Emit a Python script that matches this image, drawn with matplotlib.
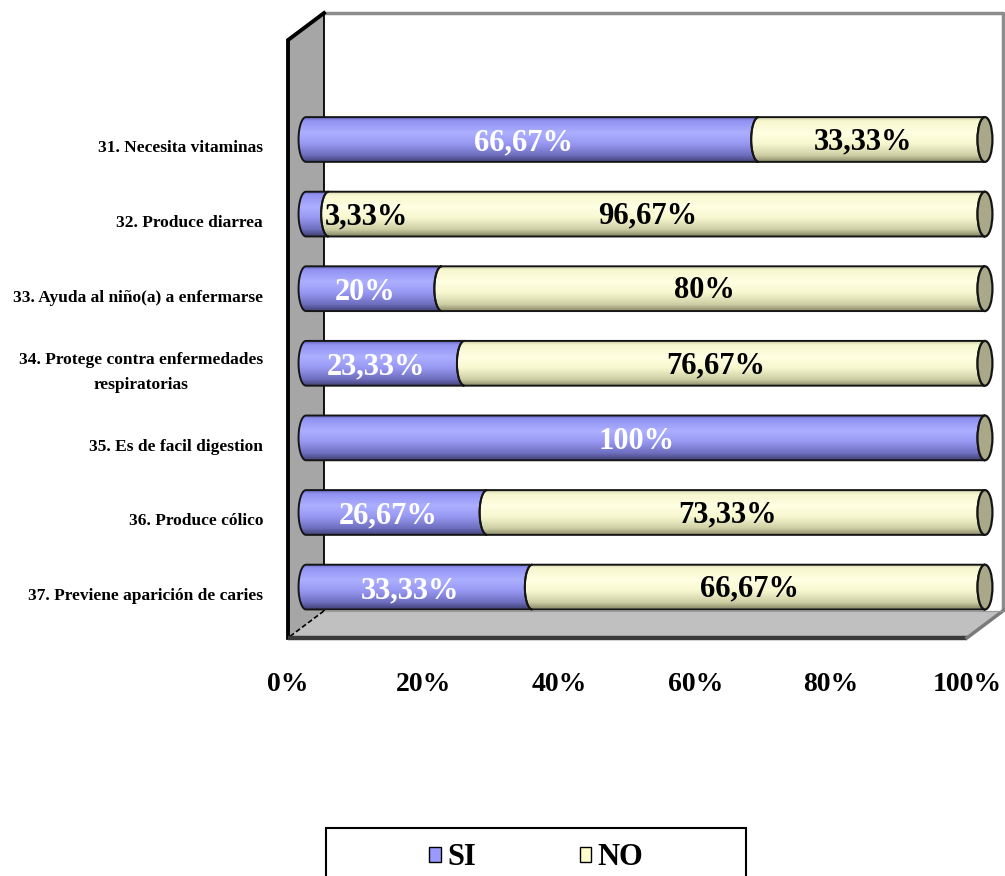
import numpy as np
import matplotlib
matplotlib.use("Agg")
import matplotlib.pyplot as plt
from matplotlib.path import Path
from matplotlib.patches import PathPatch, Polygon, Ellipse, Rectangle, Patch
from matplotlib.colors import LinearSegmentedColormap

# ---- data -------------------------------------------------------------
categories = [
    "31. Necesita vitaminas",
    "32. Produce diarrea",
    "33. Ayuda al niño(a) a enfermarse",
    "34. Protege contra enfermedades\nrespiratorias",
    "35. Es de facil digestion",
    "36. Produce cólico",
    "37. Previene aparición de caries",
]
si_values = [66.67, 3.33, 20, 23.33, 100, 26.67, 33.33]
no_values = [33.33, 96.67, 80, 76.67, 0, 73.33, 66.67]
series_names = ["SI", "NO"]
x_ticks = [0, 20, 40, 60, 80, 100]

# ---- style ------------------------------------------------------------
SERIF = "Liberation Serif"
SI_COLOR = "#9999FF"
NO_COLOR = "#FFFFCC"
CAP_COLOR = "#A9A98A"

si_cmap = LinearSegmentedColormap.from_list("si", [
    (0.00, "#6A6AC4"), (0.08, "#9292F2"), (0.35, "#ACAFFF"),
    (0.60, "#9797F2"), (0.85, "#6E6EBE"), (1.00, "#424278")])
no_cmap = LinearSegmentedColormap.from_list("no", [
    (0.00, "#CFCFA8"), (0.08, "#F6F6CE"), (0.35, "#FFFFE3"),
    (0.60, "#F7F7CF"), (0.85, "#CFCFA6"), (1.00, "#8A8A6A")])

# 3D box geometry (data units: x in percent, y in category rows)
DEPTH_DX = 5.3      # horizontal shift from front to back
DEPTH_DY = -0.362   # vertical shift from front to back
BAR_H = 0.60
CAP_A = 1.1         # half-width of the elliptical ends
TOP_Y = -1.514      # top of walls at mid depth
FLOOR_Y = 6.50      # floor at mid depth


def proj(x, y, z):
    """Oblique projection; z=0 front, z=1 back, bars at z=0.5."""
    return (x + (z - 0.5) * DEPTH_DX, y + (z - 0.5) * DEPTH_DY)


fig = plt.figure(figsize=(10.05, 8.76), dpi=100)
ax = fig.add_axes([0, 0, 1, 1])
ax.set_xlim(-45.07, 102.95)
ax.set_ylim(9.873, -1.870)
ax.axis("off")

# ---- walls and floor --------------------------------------------------
back_wall = Polygon([proj(0, TOP_Y, 1), proj(100, TOP_Y, 1),
                     proj(100, FLOOR_Y, 1), proj(0, FLOOR_Y, 1)],
                    closed=True, facecolor="white", edgecolor="none", zorder=1)
ax.add_patch(back_wall)
ax.plot(*zip(proj(0, TOP_Y, 1), proj(100, TOP_Y, 1), proj(100, FLOOR_Y, 1)),
        color="#8C8C8C", lw=2.5, zorder=2, solid_capstyle="butt")

left_wall = Polygon([proj(0, TOP_Y, 0), proj(0, TOP_Y, 1),
                     proj(0, FLOOR_Y, 1), proj(0, FLOOR_Y, 0)],
                    closed=True, facecolor="#A6A6A6", edgecolor="none", zorder=1)
ax.add_patch(left_wall)

floor = Polygon([proj(0, FLOOR_Y, 1), proj(100, FLOOR_Y, 1),
                 proj(100, FLOOR_Y, 0), proj(0, FLOOR_Y, 0)],
                closed=True, facecolor="#C0C0C0", edgecolor="none", zorder=1)
ax.add_patch(floor)

# wall edges
ax.plot(*zip(proj(0, FLOOR_Y, 0), proj(0, TOP_Y, 0), proj(0, TOP_Y, 1)),
        color="black", lw=2.8, zorder=2, solid_joinstyle="miter")
ax.plot(*zip(proj(0, TOP_Y, 1), proj(0, FLOOR_Y, 1)),
        color="black", lw=1.3, zorder=2)
ax.plot(*zip(proj(0, FLOOR_Y, 1), proj(0, FLOOR_Y, 0)),
        color="black", lw=1.2, ls=(0, (3, 1.5)), zorder=2)
ax.plot(*zip(proj(0, FLOOR_Y, 0), proj(100, FLOOR_Y, 0)),
        color="#3A3A3A", lw=3.2, zorder=2, solid_capstyle="butt")
ax.plot(*zip(proj(100, FLOOR_Y, 0), proj(100, FLOOR_Y, 1)),
        color="#7A7A7A", lw=2.5, zorder=2)
ax.plot(*zip(proj(0, FLOOR_Y, 1), proj(100, FLOOR_Y, 1)),
        color="#9A9A9A", lw=0.8, zorder=2)


# ---- cylinders --------------------------------------------------------
def segment_path(x0, x1, yc, h, a):
    t = np.linspace(-np.pi / 2, np.pi / 2, 40)
    top, bot = yc - h / 2, yc + h / 2
    verts = [(x0, top), (x1, top)]
    verts += list(zip(x1 - a * np.cos(t), yc + h / 2 * np.sin(t)))
    verts += [(x1, bot), (x0, bot)]
    verts += list(zip(x0 - a * np.cos(t[::-1]), yc + h / 2 * np.sin(t[::-1])))
    verts.append(verts[0])
    codes = [Path.MOVETO] + [Path.LINETO] * (len(verts) - 2) + [Path.CLOSEPOLY]
    return Path(verts, codes)


gradient = np.linspace(0, 1, 120).reshape(-1, 1)


def draw_segment(x0, x1, yc, cmap):
    path = segment_path(x0, x1, yc, BAR_H, CAP_A)
    outline = PathPatch(path, facecolor="none", edgecolor="#151515",
                        lw=1.4, zorder=5)
    clip = PathPatch(path, facecolor="none", edgecolor="none",
                     transform=ax.transData)
    ax.add_patch(clip)
    im = ax.imshow(gradient, cmap=cmap, aspect="auto", origin="upper",
                   extent=(x0 - CAP_A, x1, yc + BAR_H / 2, yc - BAR_H / 2),
                   interpolation="bilinear", zorder=4)
    im.set_clip_path(clip)
    ax.add_patch(outline)


def fmt(v):
    if abs(v - round(v)) < 1e-9:
        return f"{int(round(v))}%"
    return f"{v:.2f}".replace(".", ",") + "%"


for i, (cat, s, n) in enumerate(zip(categories, si_values, no_values)):
    yc = i
    if s > 0:
        draw_segment(0, s, yc, si_cmap)
    if n > 0:
        draw_segment(s, s + n, yc, no_cmap)
    cap = Ellipse((s + n, yc), 2 * CAP_A, BAR_H, facecolor=CAP_COLOR,
                  edgecolor="#151515", lw=1.6, zorder=6)
    ax.add_patch(cap)

    # value labels
    if s > 0:
        if s < 8:
            ax.text(s - 0.6, yc + 0.04, fmt(s), ha="left", va="center",
                    fontsize=22, fontweight="bold", family=SERIF,
                    color="black", zorder=8)
        else:
            ax.text(s / 2 - 1.3, yc + 0.05, fmt(s), ha="center", va="center",
                    fontsize=22, fontweight="bold", family=SERIF,
                    color="white", zorder=8)
    if n > 0:
        ax.text(s + n / 2 - 1.3, yc + 0.03, fmt(n), ha="center", va="center",
                fontsize=22, fontweight="bold", family=SERIF,
                color="black", zorder=8)

    # category labels
    lx, ly = proj(0, yc, 0)
    ax.annotate(cat, xy=(lx, yc + 0.12), xytext=(-18, 0),
                textcoords="offset points", ha="right", va="center",
                multialignment="center", linespacing=1.75,
                fontsize=12.5, fontweight="bold", family=SERIF,
                color="black", zorder=8,
                annotation_clip=False)

# ---- x tick labels on the front edge of the floor ----------------------
for v in x_ticks:
    tx, ty = proj(v, FLOOR_Y, 0)
    ax.text(tx, ty + 0.63, f"{v}%", ha="center", va="center",
            fontsize=20, fontweight="bold", family=SERIF, color="black")

# ---- legend -----------------------------------------------------------
ax.add_patch(Rectangle((2.95, 9.23), 61.85, 1.0, facecolor="white",
                       edgecolor="black", lw=1.5, clip_on=False, zorder=9))
handles = [Patch(facecolor=SI_COLOR, edgecolor="black", lw=1.0),
           Patch(facecolor=NO_COLOR, edgecolor="black", lw=1.0)]
leg = ax.legend(handles, series_names, loc="center",
                bbox_to_anchor=(33.9, 9.63), bbox_transform=ax.transData,
                ncol=2, frameon=False, handlelength=0.38, handleheight=0.38,
                handletextpad=0.2, columnspacing=3.4,
                prop={"family": SERIF, "weight": "bold", "size": 22})
leg.set_zorder(10)

fig.savefig("out.png", dpi=100)
